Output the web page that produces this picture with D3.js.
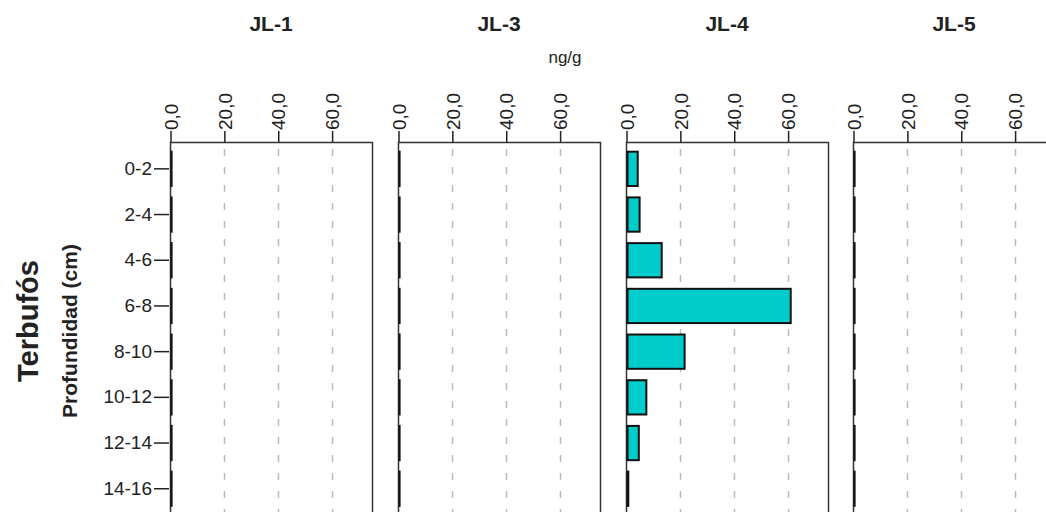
<!DOCTYPE html>
<html>
<head>
<meta charset="utf-8">
<script src="https://cdn.jsdelivr.net/npm/d3@7"></script>
<style>
  body { margin: 0; background: #fff; }
  text { font-family: Arial, "Liberation Sans", sans-serif; fill: #222; }
</style>
</head>
<body>
<svg id="canvas" width="1046" height="512"></svg>
<script>
let sites = ['JL-1', 'JL-3', 'JL-4', 'JL-5']
let depths = ['0-2', '2-4', '4-6', '6-8', '8-10', '10-12', '12-14', '14-16']
let tickValues = [0, 20, 40, 60]
let tickLabels = ['0,0', '20,0', '40,0', '60,0']

// ng/g por sitio, en orden de profundidad
let valuesJL1 = [0, 0, 0, 0, 0, 0, 0, 0]
let valuesJL3 = [0, 0, 0, 0, 0, 0, 0, 0]
let valuesJL4 = [3.8, 4.5, 12.7, 60.6, 21.2, 7.0, 4.2, 0.3]
let valuesJL5 = [0, 0, 0, 0, 0, 0, 0, 0]
let allValues = [valuesJL1, valuesJL3, valuesJL4, valuesJL5]

let canvas = d3.select('#canvas')

let panelLeft = [170, 398, 626, 853]
let panelWidth = 202
let panelTop = 142
let panelBottom = 600

let yScale = d3.scaleBand()
  .domain(depths)
  .range([146, 146 + 45.7 * depths.length])
  .paddingInner(0.25)
  .paddingOuter(0.125)

let drawPanel = (i) => {
  let x0 = panelLeft[i]
  let xScale = d3.scaleLinear()
    .domain([0, 75])
    .range([x0, x0 + panelWidth])

  let g = canvas.append('g')

  // grid
  g.selectAll('.grid')
    .data(tickValues.slice(1))
    .enter()
    .append('line')
    .attr('x1', (d) => Math.round(xScale(d)) + 0.5)
    .attr('x2', (d) => Math.round(xScale(d)) + 0.5)
    .attr('y1', panelTop + 7)
    .attr('y2', panelBottom)
    .attr('stroke', '#bbb')
    .attr('stroke-width', 1.5)
    .attr('stroke-dasharray', '7,11')

  // frame
  g.append('rect')
    .attr('x', x0 + 0.5)
    .attr('y', panelTop + 0.5)
    .attr('width', panelWidth)
    .attr('height', panelBottom - panelTop)
    .attr('fill', 'none')
    .attr('stroke', '#333')
    .attr('stroke-width', 1.5)

  // bars (a zero value still shows as a thin outline)
  g.selectAll('.bar')
    .data(allValues[i])
    .enter()
    .append('rect')
    .attr('x', xScale(0) + 1.5)
    .attr('y', (d, j) => yScale(depths[j]))
    .attr('width', (d) => Math.max(0.1, xScale(d) - xScale(0)))
    .attr('height', yScale.bandwidth())
    .attr('fill', '#00cccc')
    .attr('stroke', '#111')
    .attr('stroke-width', 2)

  // top axis
  let axis = d3.axisTop(xScale)
    .tickValues(tickValues)
    .tickSize(11)
    .tickSizeOuter(0)
    .tickFormat((d, k) => tickLabels[k])
  let ax = g.append('g')
    .attr('transform', 'translate(0.5,' + panelTop + ')')
    .call(axis)
  ax.select('.domain').remove()
  ax.selectAll('line').attr('stroke', '#222').attr('stroke-width', 1.5)
  ax.selectAll('text')
    .attr('transform', 'rotate(-90)')
    .attr('x', 12)
    .attr('y', 0)
    .attr('dy', '0.35em')
    .attr('text-anchor', 'start')
    .style('font-size', '19px')
    .style('font-family', 'Arial, "Liberation Sans", sans-serif')
    .attr('fill', '#222')

  // title
  canvas.append('text')
    .attr('x', x0 + panelWidth / 2)
    .attr('y', 31)
    .attr('text-anchor', 'middle')
    .style('font-size', '21px')
    .style('font-weight', 'bold')
    .text(sites[i])
}

sites.forEach((s, i) => drawPanel(i))

// left axis
let yAxis = d3.axisLeft(yScale).tickSize(15).tickSizeOuter(0)
let yg = canvas.append('g')
  .attr('transform', 'translate(169,0)')
  .call(yAxis)
yg.select('.domain').remove()
yg.selectAll('line').attr('stroke', '#222').attr('stroke-width', 1.5)
yg.selectAll('text')
  .style('font-size', '19px')
  .style('font-family', 'Arial, "Liberation Sans", sans-serif')
  .attr('fill', '#222')
  .attr('x', -17)

canvas.append('text')
  .attr('x', 565)
  .attr('y', 63)
  .attr('text-anchor', 'middle')
  .style('font-size', '17px')
  .text('ng/g')

canvas.append('text')
  .attr('transform', 'translate(38,321) rotate(-90)')
  .attr('text-anchor', 'middle')
  .style('font-size', '29px')
  .style('font-weight', 'bold')
  .text('Terbufós')

canvas.append('text')
  .attr('transform', 'translate(77,331) rotate(-90)')
  .attr('text-anchor', 'middle')
  .style('font-size', '21px')
  .style('font-weight', 'bold')
  .text('Profundidad (cm)')
</script>
</body>
</html>
